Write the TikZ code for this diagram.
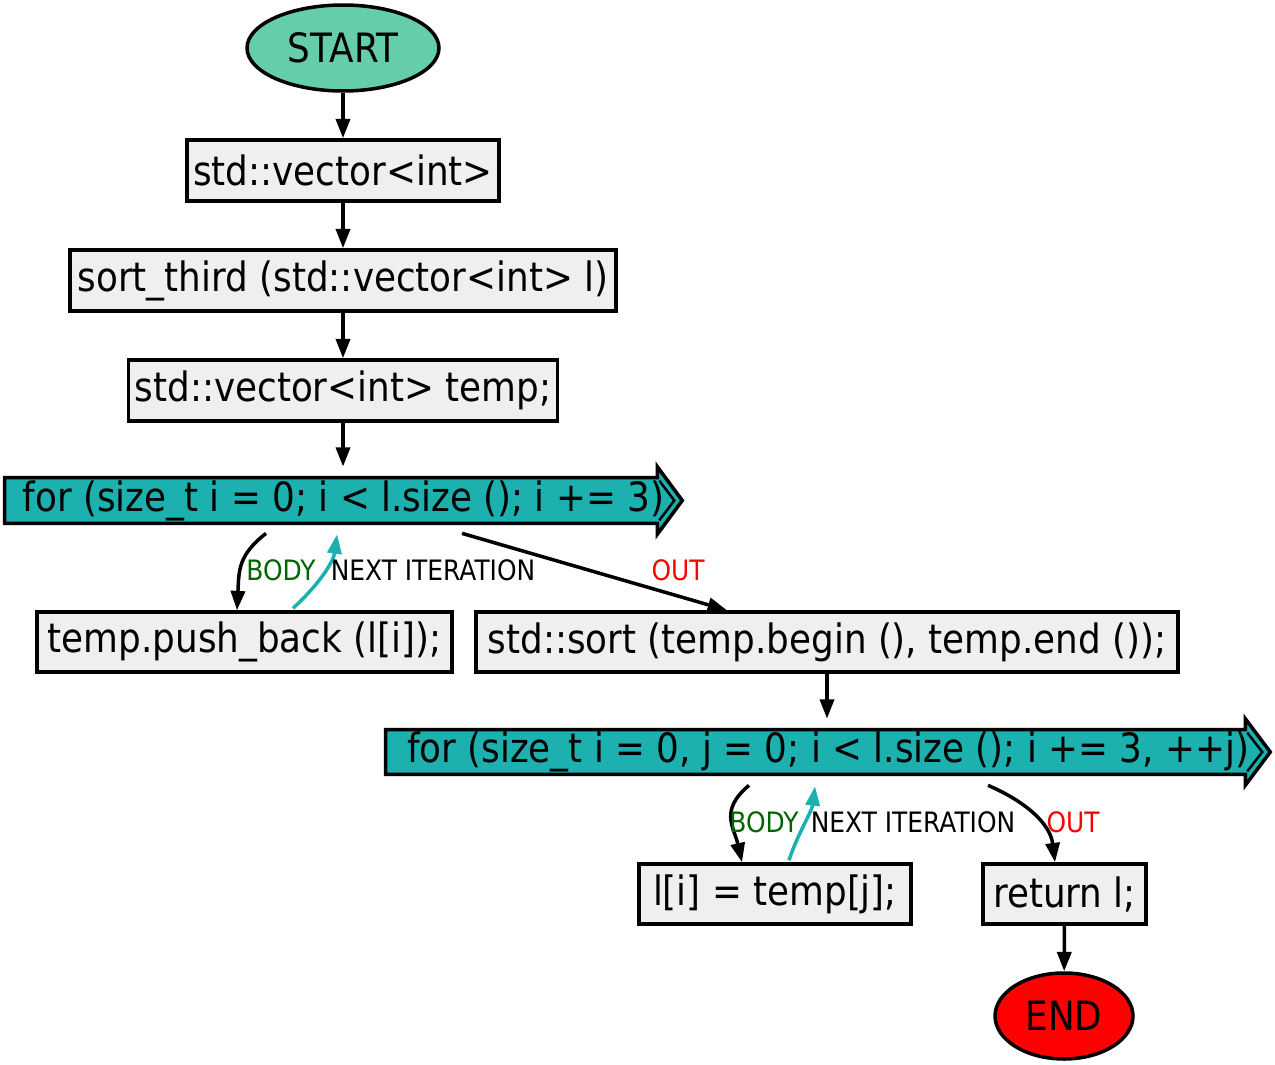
\documentclass[tikz,border=0pt]{standalone}
\usepackage{fontspec}
\setmainfont{DejaVu Sans}[FakeStretch=0.885]
\usetikzlibrary{shapes.geometric,arrows.meta,calc,backgrounds}
\definecolor{boxfill}{HTML}{EFEFEF}
\definecolor{startfill}{HTML}{66CDAA}
\definecolor{loopfill}{HTML}{1CB0AF}
\definecolor{bodygreen}{HTML}{006400}
\newcommand\px[1]{#1*0.5690551pt}
\begin{document}
\begin{tikzpicture}[x=0.02cm, y={(0,-0.02cm)},
  stmt/.style={draw, rectangle, line width=2pt, fill=boxfill, inner sep=0pt,
    font=\fontsize{23}{27}\selectfont},
  term/.style={draw, ellipse, line width=2pt, inner sep=0pt,
    font=\fontsize{23}{27}\selectfont},
  looptext/.style={rectangle, inner sep=0pt, font=\fontsize{23}{27}\selectfont},
  loopshape/.style={draw, line width=2pt, fill=loopfill, line join=miter},
  edge/.style={line width=2pt, -{Triangle[length=11pt,width=8pt]}},
  lbl/.style={inner sep=0pt, font=\fontsize{16}{19}\selectfont}]

\useasboundingbox (0,0) rectangle (1275,1065);

% terminals
\node[term, fill=startfill, minimum width={\px{192}}, minimum height={\px{86}}] (start) at (343,48) {START};
\node[term, fill=red, minimum width={\px{138}}, minimum height={\px{86}}] (end) at (1064,1016) {END};

% statements
\node[stmt, minimum width={\px{312}}, minimum height={\px{61}}] (b1) at (343,170.5) {std::vector<int>};
\node[stmt, minimum width={\px{546}}, minimum height={\px{61}}] (b2) at (343,280.5) {sort\_third (std::vector<int> l)};
\node[stmt, minimum width={\px{429}}, minimum height={\px{61}}] (b3) at (343,390.5) {std::vector<int> temp;};
\node[stmt, minimum width={\px{415}}, minimum height={\px{60}}] (b4) at (244.5,642) {temp.push\_back (l[i]);};
\node[stmt, minimum width={\px{702}}, minimum height={\px{60}}] (b5) at (827,642) {std::sort (temp.begin (), temp.end ());};
\node[stmt, minimum width={\px{272}}, minimum height={\px{60}}] (b6) at (775,894) {l[i] = temp[j];};
\node[stmt, minimum width={\px{163}}, minimum height={\px{60}}] (b7) at (1064.5,894) {return l;};

% loop headers: text nodes, arrow-shaped outline behind them
\node[looptext, minimum width={\px{677}}, minimum height={\px{45}}] (loop1) at (343.5,500.5) {for (size\_t i = 0; i < l.size (); i += 3)};
\node[looptext, minimum width={\px{884}}, minimum height={\px{44}}] (loop2) at (828,752) {for (size\_t i = 0, j = 0; i < l.size (); i += 3, ++j)};

\begin{pgfonlayer}{background}
  \foreach \n in {loop1,loop2} {
    \draw[loopshape] (\n.north west) -- ($(\n.north east)+(-25,0)$) -- ($(\n.north east)+(-25,-11)$)
      -- (\n.east) -- ($(\n.south east)+(-25,11)$) -- ($(\n.south east)+(-25,0)$)
      -- (\n.south west) -- cycle;
    \draw[line width=1.4pt] ($(\n.north east)+(-23,3)$) -- ($(\n.east)+(-8,0)$) -- ($(\n.south east)+(-23,-3)$);
  }
\end{pgfonlayer}

% straight flow
\draw[edge] (start) -- (b1);
\draw[edge] (b1) -- (b2);
\draw[edge] (b2) -- (b3);
\draw[edge] (b3.south) -- ($(loop1.north)+(-0.5,-11)$);
\draw[edge] (b5.south) -- ($(loop2.north)+(-1,-11)$);
\draw[edge] (b7) -- (end);

% first loop
\draw[edge] ($(loop1.south)+(-77.5,10)$) .. controls +(-28,22) and +(2,-40) .. ($(b4.north)+(-7.5,0)$);
\draw[edge, draw=loopfill, -{Triangle[length=11pt,width=8pt,fill=loopfill]}]
  ($(b4.north)+(48.5,-2)$) .. controls +(22,-20) and +(-4,30) .. ($(loop1.south)+(-6.5,11)$);
\draw[edge] ($(loop1.south)+(118.5,10)$) -- ($(b5.north)+(-100,0)$);
\node[lbl, text=bodygreen] (lb1) at (281,570) {BODY};
\node[lbl] (ln1) at (433,570) {NEXT ITERATION};
\node[lbl, text=red] (lo1) at (678,570) {OUT};

% second loop
\draw[edge] ($(loop2.south)+(-79,11)$) .. controls +(-30,25) and +(-8,-35) .. ($(b6.north)+(-33,0)$);
\draw[edge, draw=loopfill, -{Triangle[length=11pt,width=8pt,fill=loopfill]}]
  ($(b6.north)+(14,-2)$) .. controls +(8,-25) and +(-3,25) .. ($(loop2.south)+(-13,12)$);
\draw[edge] ($(loop2.south)+(160,11)$) .. controls +(35,15) and +(-5,-40) .. ($(b7.north)+(-9.5,0)$);
\node[lbl, text=bodygreen] (lb2) at (764,822) {BODY};
\node[lbl] (ln2) at (913,822) {NEXT ITERATION};
\node[lbl, text=red] (lo2) at (1073,822) {OUT};

\end{tikzpicture}
\end{document}
